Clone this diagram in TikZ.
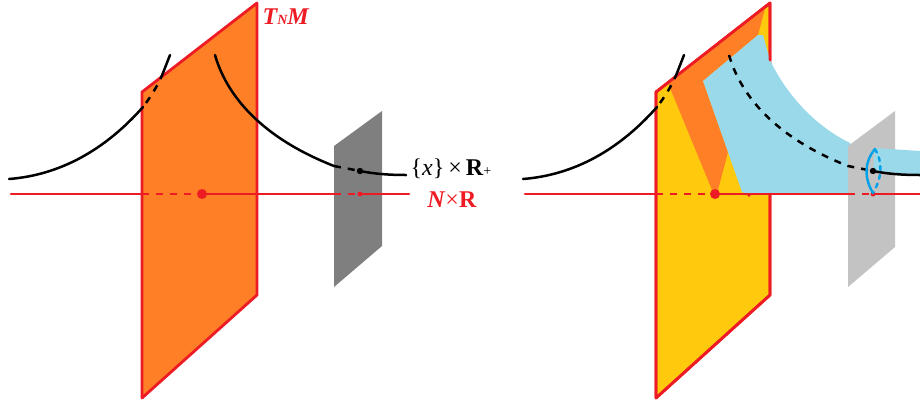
\documentclass[tikz,border=0pt]{standalone}
\usepackage{fontspec}
\setmainfont{Liberation Serif}
\definecolor{planeorange}{HTML}{FF7F27}
\definecolor{planeyellow}{HTML}{FFC90E}
\definecolor{tubeblue}{HTML}{99D9EA}
\definecolor{arcblue}{HTML}{00A2E8}
\definecolor{linered}{HTML}{ED1C24}
\definecolor{fibredark}{HTML}{7F7F7F}
\definecolor{fibrelight}{HTML}{C3C3C3}
\newcommand{\bigfont}{\fontsize{24}{28}\selectfont}
\newcommand{\tinyfont}{\fontsize{14}{16}\selectfont}

\begin{document}
\begin{tikzpicture}[
    x=1pt, y=-1pt, line cap=round, line join=round,
    redline/.style={line width=2.6pt, linered},
    blackline/.style={line width=2.5pt, black},
    dashline/.style={dash pattern=on 7pt off 7pt, line cap=butt},
    plane/.style={draw=linered, line width=2.8pt},
    arc/.style={arcblue, line width=2.4pt},
    lab/.style={font=\bigfont, inner sep=0pt},
  ]
  \useasboundingbox (0,0) rectangle (920,407);

  % --- left panel: plane and fibre ---
  \fill[fibredark] (334,146) -- (382,111) -- (382,246) -- (334,287) -- cycle;
  \draw[plane, fill=planeorange] (142,92) -- (257,3) -- (257,295) -- (142,398) -- cycle;

  % --- left panel: red line ---
  \draw[redline] (11,194) -- (142,194);
  \draw[redline, dashline] (142,194) -- (202,194);
  \draw[redline] (202,194) -- (334,194);
  \draw[redline, dashline] (334,194) -- (360,194);
  \draw[redline] (360,194) -- (409,194);
  \fill[linered] (202,194) circle (5pt);
  \fill[linered] (360,194) circle (2.5pt);

  % --- left panel: black curves ---
  \draw[blackline] (9,179) .. controls (60,175) and (105,150) .. (143,107);
  \draw[blackline, dashline] (146,103) .. controls (153,93) and (158,85) .. (163,73);
  \draw[blackline] (163,73) -- (170,55);
  \draw[blackline] (215,55) .. controls (225,90) and (255,135) .. (334,166);
  \draw[blackline, dashline] (334,166) -- (360,171);
  \draw[blackline] (360,171) .. controls (375,174) and (390,175) .. (406,175);
  \fill[black] (360,171) circle (3.2pt);

  % --- left panel: labels ---
  \node[lab, text=linered] (tnm) at (286,17) {\textbf{\textit{T{\tinyfont N}M}}};
  \node[lab] (fibre) at (451,169) {\{\textit{x}\}\,×\,\textbf{R}{\tinyfont +}};
  \node[lab, text=linered] (nr) at (452,200) {\textbf{\textit{N}}×\textbf{R}};

  % --- right panel: plane ---
  \draw[plane, fill=planeyellow] (656,92) -- (770,3) -- (770,295) -- (656,398) -- cycle;
  \fill[planeorange] (668,83) -- (765,9) -- (758,35) -- (703,81) -- (728,152)
    -- (718,190) -- (715,194) -- (712,190) -- cycle;

  % --- right panel: blue sheet ---
  \fill[tubeblue] (703,81) -- (758,35) -- (763,35) -- (770,60)
    .. controls (785,92) and (813,125) .. (850,143)
    -- (850,194) -- (747,194) -- (742,192) -- (728,152) -- cycle;
  \fill[fibrelight] (848,146) -- (895,111) -- (895,247) -- (848,287) -- cycle;
  \fill[tubeblue] (875,148) -- (920,151) -- (920,175) -- (873,171) -- cycle;

  % --- right panel: red line ---
  \draw[redline] (525,194) -- (656,194);
  \draw[redline, dashline] (656,194) -- (715,194);
  \draw[redline] (715,194) -- (848,194);
  \draw[redline, dashline] (848,194) -- (873,194);
  \draw[redline] (873,194) -- (920,194);
  \draw[plane] (656,92) -- (770,3) -- (770,60);
  \draw[plane] (656,92) -- (656,398) -- (770,295) -- (770,194);
  \fill[linered] (715,194) circle (5pt);
  \fill[linered] (873,194) circle (2.5pt);
  \fill[linered] (749,195) circle (1.8pt);

  % --- right panel: black curves ---
  \draw[blackline] (523,179) .. controls (574,175) and (619,150) .. (657,107);
  \draw[blackline, dashline] (660,103) .. controls (667,93) and (672,85) .. (677,73);
  \draw[blackline] (677,73) -- (684,55);
  \draw[blackline, dashline] (729,55) .. controls (739,90) and (769,135) .. (848,166) -- (873,171);
  \draw[blackline] (873,171) .. controls (888,174) and (903,175) .. (920,175);
  \fill[black] (873,171) circle (3.2pt);

  % --- right panel: cross-section arcs ---
  \draw[arc] (875,149) .. controls (864,162) and (864,178) .. (873,193);
  \draw[arc, dash pattern=on 4pt off 5pt] (875,149) .. controls (883,162) and (882,178) .. (873,193);
\end{tikzpicture}
\end{document}
